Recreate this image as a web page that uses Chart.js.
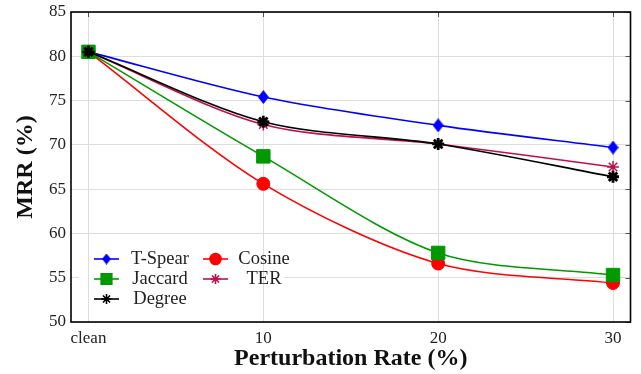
<!DOCTYPE html>
<html>
<head>
<meta charset="utf-8">
<script src="https://cdn.jsdelivr.net/npm/chart.js"></script>
<style>
html, body { margin: 0; padding: 0; background: #fff; }
#wrap { width: 641px; height: 374px; }
</style>
</head>
<body>
<div id="wrap"><canvas id="line-chart" width="641" height="374"></canvas></div>
<script>
// perturbation rates (x) and their labels
const rates = [0, 10, 20, 30];
const rateLabels = ['clean', '10', '20', '30'];
const yTicks = [50, 55, 60, 65, 70, 75, 80, 85];

// MRR (%) per method
const tSpear = [80.5, 75.4, 72.2, 69.7];
const jaccard = [80.5, 68.7, 57.8, 55.3];
const cosine = [80.5, 65.6, 56.6, 54.4];
const degree = [80.5, 72.6, 70.1, 66.4];
const ter = [80.5, 72.3, 70.1, 67.5];

const FONT = "'Liberation Serif', 'DejaVu Serif', serif";

// elongated diamond for T-Spear
function diamond(w, h, color) {
    const c = document.createElement('canvas');
    c.width = w;
    c.height = h;
    const ctx = c.getContext('2d');
    ctx.fillStyle = color;
    ctx.beginPath();
    ctx.moveTo(w / 2, 0);
    ctx.lineTo(w, h / 2);
    ctx.lineTo(w / 2, h);
    ctx.lineTo(0, h / 2);
    ctx.closePath();
    ctx.fill();
    return c;
}

const toPoints = values => values.map((v, i) => ({x: rates[i], y: v}));

const series = [
    {label: 'T-Spear', data: tSpear, color: '#0000ff', style: diamond(11, 14, '#0000ff'), legendStyle: diamond(9, 11, '#0000ff'), radius: 7, bw: 1, order: 4},
    {label: 'Jaccard', data: jaccard, color: '#009900', style: 'rect', radius: 9.5, legendRadius: 7.5, bw: 1, order: 1},
    {label: 'Degree', data: degree, color: '#000000', style: 'star', radius: 6, legendRadius: 5, bw: 2.8, order: 0},
    {label: 'Cosine', data: cosine, color: '#ff0000', style: 'circle', radius: 6.5, legendRadius: 5.5, bw: 1, order: 2},
    {label: 'TER', data: ter, color: '#c0104a', style: 'star', radius: 6, legendRadius: 5, bw: 1.5, order: 3},
];

const datasets = series.map(s => ({
    label: s.label,
    data: toPoints(s.data),
    borderColor: s.color,
    backgroundColor: s.color,
    borderWidth: 1.6,
    pointStyle: s.style,
    pointRadius: s.radius,
    pointBorderWidth: s.bw,
    pointBackgroundColor: s.color,
    pointBorderColor: s.color,
    tension: 0.3,
    order: s.order,
    clip: false,
}));

// legend box, two columns, placed inside plot area (lower left)
const legendLayout = [
    {name: 'T-Spear', col: 0, row: 0},
    {name: 'Jaccard', col: 0, row: 1},
    {name: 'Degree', col: 0, row: 2},
    {name: 'Cosine', col: 1, row: 0},
    {name: 'TER', col: 1, row: 1},
];

const framePlugin = {
    id: 'frame',
    beforeDatasetsDraw(chart) {
        const {ctx, chartArea, scales} = chart;
        const x0 = chartArea.left + 8, y0 = chartArea.bottom - 75;
        ctx.save();
        ctx.fillStyle = '#ffffff';
        ctx.fillRect(x0, y0, 205, 62);
        // vertical grid shows through
        ctx.strokeStyle = '#dddddd';
        ctx.lineWidth = 1;
        rates.forEach(r => {
            const px = Math.round(scales.x.getPixelForValue(r)) + 0.5;
            if (px > x0 && px < x0 + 205) {
                ctx.beginPath();
                ctx.moveTo(px, y0);
                ctx.lineTo(px, y0 + 62);
                ctx.stroke();
            }
        });
        ctx.restore();
    },
    afterDraw(chart) {
        const {ctx, chartArea, scales} = chart;
        const {left, right, top, bottom} = chartArea;
        ctx.save();
        // inner tick marks on top and right
        ctx.strokeStyle = '#555555';
        ctx.lineWidth = 1;
        yTicks.forEach(v => {
            const py = Math.round(scales.y.getPixelForValue(v)) + 0.5;
            ctx.beginPath();
            ctx.moveTo(right - 5, py);
            ctx.lineTo(right, py);
            ctx.stroke();
        });
        rates.forEach(r => {
            const px = Math.round(scales.x.getPixelForValue(r)) + 0.5;
            ctx.beginPath();
            ctx.moveTo(px, top);
            ctx.lineTo(px, top + 5);
            ctx.stroke();
        });
        // frame
        ctx.strokeStyle = '#000000';
        ctx.lineWidth = 1.6;
        ctx.strokeRect(left, top, right - left, bottom - top);

        // legend
        const colLine = [23, 132];
        const colText = [89, 193];
        ctx.font = `18.5px ${FONT}`;
        ctx.textAlign = 'center';
        ctx.textBaseline = 'middle';
        legendLayout.forEach(item => {
            const s = series.find(d => d.label === item.name);
            const y = bottom - 63 + item.row * 20;
            const lx = left + colLine[item.col];
            ctx.strokeStyle = s.color;
            ctx.lineWidth = 1.6;
            ctx.beginPath();
            ctx.moveTo(lx, y);
            ctx.lineTo(lx + 25, y);
            ctx.stroke();
            ctx.fillStyle = s.color;
            ctx.strokeStyle = s.color;
            Chart.helpers.drawPoint(ctx, {
                pointStyle: s.legendStyle || s.style,
                radius: s.legendRadius || 6,
                borderWidth: s.bw,
                rotation: 0,
            }, lx + 12.5, y);
            ctx.fillStyle = '#222222';
            ctx.fillText(item.name, left + colText[item.col], y);
        });
        ctx.restore();
    }
};

window.chart = new Chart(document.getElementById('line-chart'), {
    type: 'line',
    data: {datasets: datasets},
    options: {
        responsive: false,
        animation: false,
        devicePixelRatio: 1,
        layout: {padding: {left: 0, top: 12, right: 9, bottom: 0}},
        plugins: {legend: {display: false}, tooltip: {enabled: false}},
        scales: {
            x: {
                type: 'linear',
                min: -1,
                max: 31,
                afterBuildTicks: scale => { scale.ticks = rates.map(v => ({value: v})); },
                afterFit: scale => { scale.height = 52; },
                grid: {color: '#dddddd', drawTicks: false},
                border: {display: false},
                ticks: {
                    padding: 6,
                    color: '#222222',
                    font: {family: FONT, size: 17},
                    callback: v => rateLabels[rates.indexOf(v)],
                },
                title: {
                    display: true,
                    text: 'Perturbation Rate (%)',
                    color: '#111111',
                    font: {family: FONT, size: 24, weight: 'bold', lineHeight: 1.2},
                    padding: {top: 1, bottom: 1},
                },
            },
            y: {
                min: 50,
                max: 85,
                afterBuildTicks: scale => { scale.ticks = yTicks.map(v => ({value: v})); },
                afterFit: scale => { scale.width = 71; scale.paddingTop = 0; scale.paddingBottom = 0; },
                grid: {color: '#dddddd', drawTicks: false},
                border: {display: false},
                ticks: {
                    padding: 5,
                    color: '#222222',
                    font: {family: FONT, size: 17, lineHeight: 0.8},
                },
                title: {
                    display: true,
                    text: 'MRR (%)',
                    color: '#111111',
                    font: {family: FONT, size: 24, weight: 'bold', lineHeight: 1.2},
                    padding: {top: 11, bottom: 0},
                },
            },
        },
    },
    plugins: [framePlugin],
});
</script>
</body>
</html>
